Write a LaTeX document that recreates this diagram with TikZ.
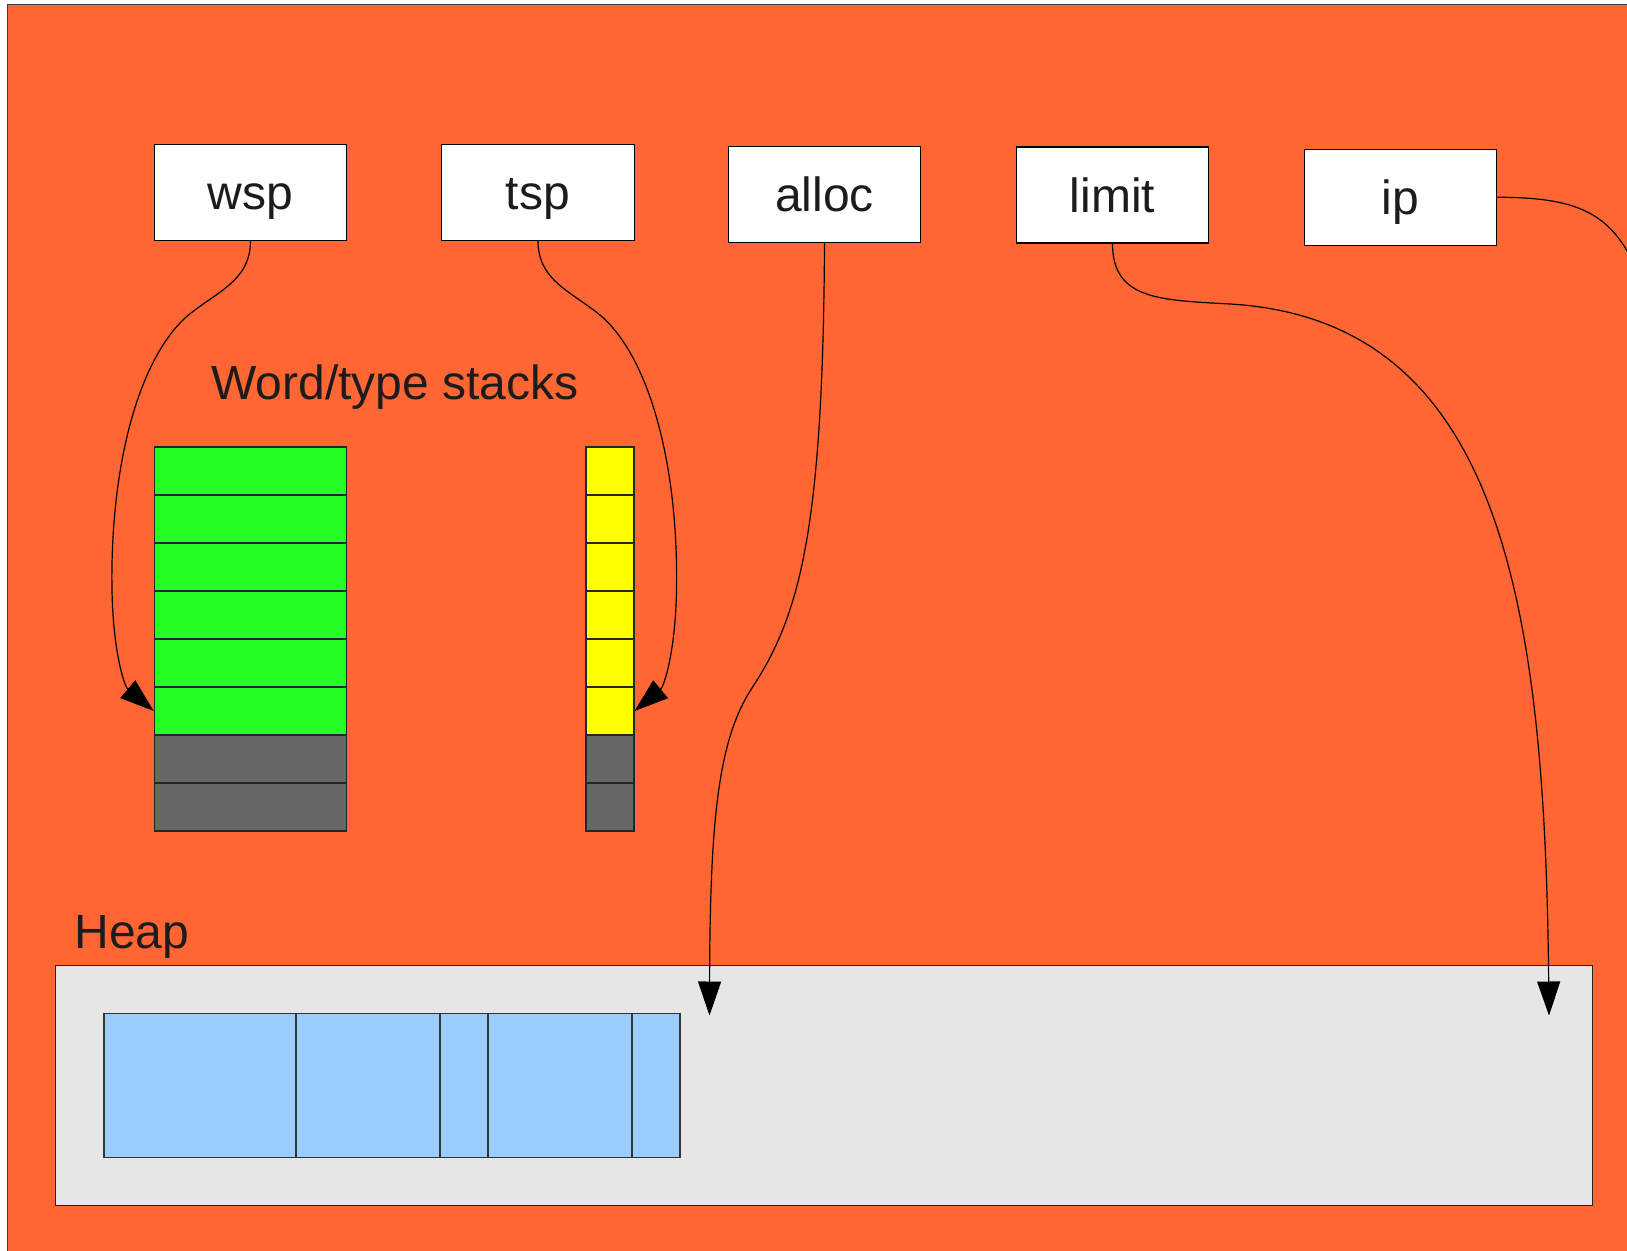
\documentclass[tikz,border=0pt]{standalone}
\usepackage{fontspec}
\setmainfont{Liberation Sans}
\usetikzlibrary{arrows.meta}

\definecolor{bgorange}{HTML}{FF6633}
\definecolor{wgreen}{HTML}{23FF23}
\definecolor{tyellow}{HTML}{FFFF00}
\definecolor{deadgray}{HTML}{666666}
\definecolor{heapgray}{HTML}{E6E6E6}
\definecolor{objblue}{HTML}{99CCFF}
\definecolor{inktext}{HTML}{1C1C1C}

\tikzset{
  bigfont/.style={font=\fontsize{24}{28}\selectfont, text=inktext},
  regbox/.style={draw=black, fill=white, line width=0.55pt,
    minimum width=96.25pt, minimum height=48pt, inner sep=0pt,
    text height=20pt, text depth=2.5pt, bigfont},
  cell/.style={draw=black!85, line width=0.55pt, minimum width=#1,
    minimum height=24pt, inner sep=0pt},
  block/.style={draw=black!80, fill=objblue, line width=0.55pt,
    minimum width=#1, minimum height=72pt, inner sep=0pt},
  caption/.style={bigfont, inner sep=0pt, anchor=base west},
  conn/.style={line width=0.6pt, draw=black,
    -{Triangle[length=17pt,width=11.5pt]}},
}

\begin{document}
\begin{tikzpicture}[x=0.5pt,y=-0.5pt]
  \useasboundingbox (0,0) rectangle (1627,1251);
  \clip (0,0) rectangle (1627,1251);
  \fill[white] (0,0) rectangle (1627,1251);
  \draw[fill=bgorange, draw=black!75, line width=0.5pt] (7.5,5) rectangle (1700,1320);

  % registers
  \node[regbox] (wsp)   at (250.5,192.2) {wsp};
  \node[regbox] (tsp)   at (538,192.2)   {tsp};
  \node[regbox] (alloc) at (824.5,194.5) {alloc};
  \node[regbox] (limit) at (1112.5,195)  {limit};
  \node[regbox] (ip)    at (1400.5,197.3) {ip};

  % stacks
  \node[caption] (stacks) at (211,400) {Word/type stacks};
  \foreach \i in {1,...,6} {
    \node[cell=96.2pt, fill=wgreen] (g\i) at (250.5,{423+48*\i}) {};
    \node[cell=24pt, fill=tyellow] (t\i) at (610,{423+48*\i}) {};
  }
  \foreach \i in {7,8} {
    \node[cell=96.2pt, fill=deadgray] (g\i) at (250.5,{423+48*\i}) {};
    \node[cell=24pt, fill=deadgray] (t\i) at (610,{423+48*\i}) {};
  }

  % heap
  \node[caption] (heaplbl) at (74,948.5) {Heap};
  \node[draw=black!85, fill=heapgray, line width=0.55pt, minimum width=768.5pt,
        minimum height=120pt, inner sep=0pt] (heap) at (824.2,1085.7) {};
  \node[block=96pt] (h1) at (200,1085.6) {};
  \node[block=72pt] (h2) at (368,1085.6) {};
  \node[block=24pt] (h3) at (464,1085.6) {};
  \node[block=72pt] (h4) at (560,1085.6) {};
  \node[block=24pt] (h5) at (656,1085.6) {};

  \coordinate (allocend) at (709.5,1015.5);
  \coordinate (limitend) at (1549,1015.5);
  \coordinate (ipout) at (1650,300);

  % pointers
  \draw[conn] (wsp.south) .. controls (250.5,282) and (215,292) .. (185,318)
    .. controls (135,365) and (110,475) .. (112,590)
    .. controls (113,650) and (124,686) .. (g6.west);
  \draw[conn] (tsp.south) .. controls (538,282) and (573.5,292) .. (603.5,318)
    .. controls (653.5,365) and (678.5,475) .. (676.5,590)
    .. controls (675.5,650) and (664.5,686) .. (t6.east);
  \draw[conn] (alloc.south) .. controls (823,530) and (800,615) .. (752,688)
    .. controls (718,740) and (710,820) .. (allocend);
  \draw[conn] (limit.south) .. controls (1112.5,300) and (1160,300) .. (1230,304)
    .. controls (1500,320) and (1545,600) .. (limitend);
  \draw[line width=0.6pt] (ip.east) .. controls (1600,197) and (1620,225) .. (ipout);
\end{tikzpicture}
\end{document}
